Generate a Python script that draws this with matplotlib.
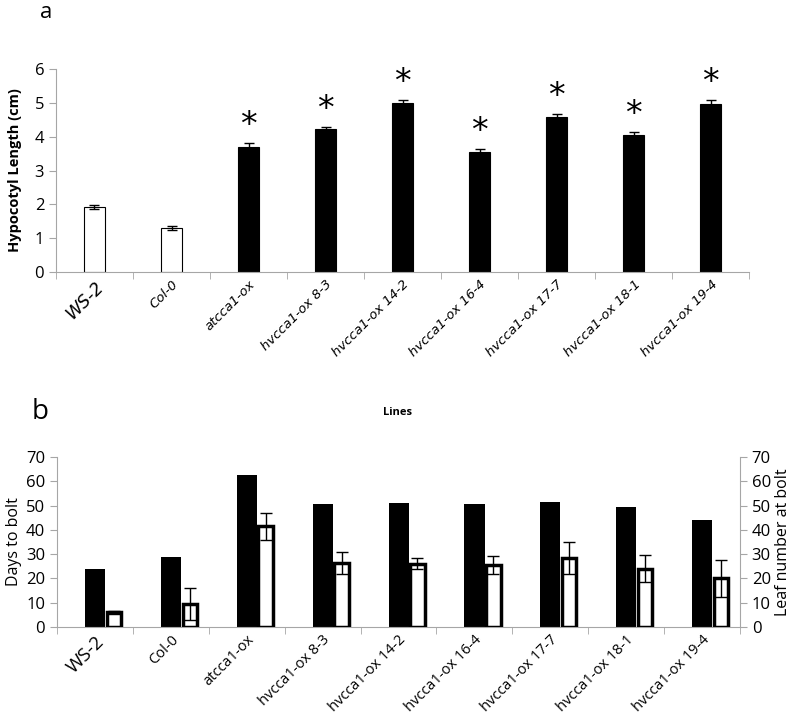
import numpy as np
import matplotlib.pyplot as plt

lines = ['WS-2', 'Col-0', 'atcca1-ox', 'hvcca1-ox 8-3', 'hvcca1-ox 14-2',
         'hvcca1-ox 16-4', 'hvcca1-ox 17-7', 'hvcca1-ox 18-1', 'hvcca1-ox 19-4']

# panel a
hypocotyl = [1.92, 1.29, 3.70, 4.22, 4.98, 3.56, 4.58, 4.05, 4.97]
hypocotyl_err = [0.05, 0.06, 0.10, 0.06, 0.09, 0.08, 0.09, 0.08, 0.10]
significant = [False, False, True, True, True, True, True, True, True]

# panel b
days_to_bolt = [24, 29, 62.5, 50.5, 51, 50.8, 51.5, 49.5, 44]
leaf_number = [6, 9.5, 41.5, 26.5, 26, 25.5, 28.5, 24, 20]
leaf_err = [0.5, 6.5, 5.5, 4.5, 2.3, 3.8, 6.5, 5.5, 7.5]

num_font = 'Open Sans'
grey = '#a6a6a6'

fig = plt.figure(figsize=(7.95, 7.26), dpi=100)
x = np.arange(len(lines))


def style_x(ax, italic, size):
    ax.set_xlim(-0.5, len(lines) - 0.5)
    ax.set_xticks(x)
    ax.set_xticks(np.arange(-0.5, len(lines), 1.0), minor=True)
    ax.tick_params(axis='x', which='major', length=0, pad=4)
    ax.tick_params(axis='x', which='minor', length=5, color=grey, direction='out')
    if italic:
        ax.set_xticklabels(lines, rotation=45, ha='right', rotation_mode='anchor',
                           family='DejaVu Sans', fontsize=size, style='italic')
    else:
        ax.set_xticklabels(lines, rotation=45, ha='right', rotation_mode='anchor',
                           family='Open Sans', fontsize=size)
    ax.get_xticklabels()[0].set_fontsize(size + 3)
    for s in ['top', 'right']:
        ax.spines[s].set_visible(False)
    for s in ['left', 'bottom']:
        ax.spines[s].set_color(grey)


def style_y(ax):
    ax.tick_params(axis='y', length=5, color=grey, labelsize=12)
    for t in ax.get_yticklabels():
        t.set_family(num_font)


# ---- a ----
ax1 = fig.add_axes([0.0704, 0.6253, 0.872, 0.2797])
colors = ['white' if not s else 'black' for s in significant]
ax1.bar(x, hypocotyl, width=0.27, color=colors, edgecolor='black', linewidth=0.8,
        yerr=hypocotyl_err, capsize=3.5, error_kw=dict(elinewidth=1, ecolor='black', capthick=1))
for i in range(len(lines)):
    if significant[i]:
        ax1.text(x[i], hypocotyl[i] + hypocotyl_err[i] + 0.03, '*', ha='center', va='bottom',
                 fontsize=24, family='DejaVu Sans')
ax1.set_ylim(0, 6)
ax1.set_yticks(range(0, 7))
style_y(ax1)
ax1.set_ylabel('Hypocotyl Length (cm)', fontsize=10.5, fontweight='bold', family='Open Sans', labelpad=9)
style_x(ax1, True, 9.5)
fig.text(0.058, 1 - 18 / 726, 'a', fontsize=16, family='Open Sans', ha='center', va='baseline')

# ---- b ----
ax2 = fig.add_axes([0.0717, 0.1364, 0.859, 0.2341])
ax2.bar(x - 0.13, days_to_bolt, width=0.265, align='edge', color='black', edgecolor='black',
        linewidth=0)
ax2.set_ylim(0, 70)
ax2.set_yticks(range(0, 71, 10))
style_y(ax2)
ax2.set_ylabel('Days to bolt', fontsize=11.5, family='Open Sans', labelpad=3)
style_x(ax2, False, 10.5)
fig.text(0.5, 0.4325, 'Lines', fontsize=8, fontweight='bold', family='Open Sans',
         ha='center', va='center')

ax3 = ax2.twinx()
ax3.bar(x + 0.155, leaf_number, width=0.19, align='edge', color='white', edgecolor='black',
        linewidth=2.5)
ax3.errorbar(x + 0.25, leaf_number, yerr=leaf_err, fmt='none', ecolor='black',
             elinewidth=1, capsize=4, capthick=1)
ax3.set_ylim(0, 70)
ax3.set_yticks(range(0, 71, 10))
style_y(ax3)
ax3.set_ylabel('Leaf number at bolt', fontsize=11.5, family='Open Sans', labelpad=3)
for s in ['top', 'left', 'bottom']:
    ax3.spines[s].set_visible(False)
ax3.spines['right'].set_color(grey)
fig.text(0.051, 0.4325, 'b', fontsize=20, family='Open Sans', ha='center', va='center')

fig.savefig('out.png', dpi=100)
